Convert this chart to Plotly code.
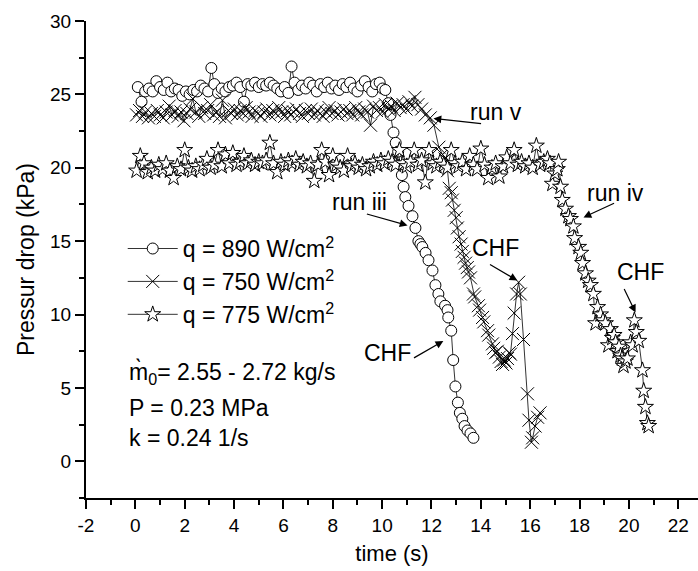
import plotly.graph_objects as go

# ---------------- data ----------------
series_names = ["q = 890 W/cm<sup>2</sup>", "q = 750 W/cm<sup>2</sup>", "q = 775 W/cm<sup>2</sup>"]
x_tick_vals = [-2, 0, 2, 4, 6, 8, 10, 12, 14, 16, 18, 20, 22]
x_tick_text = ["-2", "0", "2", "4", "6", "8", "10", "12", "14", "16", "18", "20", "22"]
y_tick_vals = [0, 5, 10, 15, 20, 25, 30]

# run iii, q = 890 W/cm2 (circles)
t_iii = [0.10, 0.25, 0.40, 0.55, 0.70, 0.85, 1.00, 1.15, 1.30, 1.45, 1.60, 1.75, 1.90, 2.05, 2.20,
         2.35, 2.50, 2.65, 2.80, 2.95, 3.08, 3.20, 3.35, 3.50, 3.65, 3.80, 3.95, 4.10, 4.25, 4.40,
         4.55, 4.70, 4.85, 5.00, 5.15, 5.30, 5.45, 5.60, 5.75, 5.90, 6.05, 6.20, 6.33, 6.45, 6.60,
         6.75, 6.90, 7.05, 7.20, 7.35, 7.50, 7.65, 7.80, 7.95, 8.10, 8.25, 8.40, 8.55, 8.70, 8.85,
         9.00, 9.15, 9.30, 9.45, 9.60, 9.75, 9.90, 10.02, 10.13, 10.25, 10.34, 10.46, 10.55, 10.65,
         10.80, 10.87, 10.94, 11.07, 11.23, 11.35, 11.47, 11.55, 11.63, 11.76, 11.88, 12.04, 12.16,
         12.28, 12.36, 12.55, 12.65, 12.68, 12.80, 12.88, 12.97, 13.07, 13.15, 13.25, 13.34, 13.46,
         13.58, 13.70]
dp_iii = [25.5, 24.5, 25.2, 25.4, 25.2, 25.9, 25.5, 25.3, 25.8, 25.2, 25.4, 25.3, 24.9, 25.2, 25.0,
          25.3, 25.2, 25.6, 25.4, 25.2, 26.8, 25.7, 25.1, 25.4, 25.2, 25.5, 25.6, 25.8, 25.5, 24.5,
          25.7, 25.6, 25.8, 25.5, 25.7, 25.6, 25.8, 25.6, 25.4, 25.2, 25.5, 25.1, 26.9, 25.8, 25.3,
          25.6, 25.4, 25.8, 25.6, 25.2, 25.7, 25.5, 25.8, 25.4, 25.6, 25.3, 25.7, 25.5, 25.8, 25.4,
          25.2, 25.6, 25.9, 25.5, 25.2, 25.7, 25.8, 25.4, 25.3, 24.4, 23.6, 22.4, 21.7, 21.1,
          19.5, 18.7, 18.0, 17.4, 16.7, 15.9, 15.0, 14.8, 14.6, 14.2, 13.7, 13.0, 12.0,
          11.4, 10.9, 10.6, 10.3, 9.8, 8.9, 6.9, 5.1, 4.0, 3.3, 2.9, 2.4, 2.1,
          1.9, 1.6]

# run v, q = 750 W/cm2 (crosses)
t_v = [0.05, 0.17, 0.29, 0.41, 0.53, 0.65, 0.77, 0.89, 1.01, 1.13, 1.25, 1.37, 1.49, 1.61, 1.73,
       1.85, 1.97, 2.09, 2.21, 2.33, 2.45, 2.57, 2.69, 2.81, 2.93, 3.05, 3.17, 3.29, 3.41, 3.53,
       3.65, 3.77, 3.89, 4.01, 4.13, 4.25, 4.37, 4.49, 4.61, 4.73, 4.85, 4.97, 5.09, 5.21, 5.33,
       5.45, 5.57, 5.69, 5.81, 5.93, 6.05, 6.17, 6.29, 6.41, 6.53, 6.65, 6.77, 6.89, 7.01, 7.13,
       7.25, 7.37, 7.49, 7.61, 7.73, 7.85, 7.97, 8.09, 8.21, 8.33, 8.45, 8.57, 8.69, 8.81, 8.93,
       9.05, 9.17, 9.29, 9.41, 9.53, 9.65, 9.77, 9.89, 10.01, 10.13, 10.25, 10.37, 10.49, 10.61,
       10.73, 10.85, 10.97, 11.09, 11.21, 11.33, 11.45, 11.60, 11.75, 11.95, 12.10, 12.30, 12.45,
       12.55, 12.65, 12.72, 12.80, 12.85, 12.92, 13.00, 13.05, 13.12, 13.20, 13.25, 13.32, 13.38,
       13.45, 13.50, 13.58, 13.70, 13.75, 13.90, 13.95, 14.07, 14.12, 14.27, 14.32, 14.47, 14.52,
       14.60, 14.67, 14.75, 14.82, 14.88, 14.95, 15.02, 15.08, 15.15, 15.20, 15.28, 15.35, 15.45,
       15.53, 15.60, 15.73, 15.89, 15.95, 16.05, 16.10, 16.20, 16.30, 16.40]
dp_v = [23.6, 23.9, 23.5, 23.8, 23.4, 23.7, 23.5, 23.9, 23.6, 23.4, 23.8, 24.2, 23.6, 23.9, 23.5,
        23.8, 23.2, 23.7, 24.0, 24.7, 23.8, 23.5, 24.1, 23.7, 23.9, 24.3, 23.6, 23.8, 23.5, 24.6,
        23.4, 23.9, 23.7, 24.0, 23.6, 23.9, 23.7, 24.1, 23.8, 23.5, 23.9, 23.7, 23.5, 23.8, 24.0,
        23.6, 23.9, 23.7, 24.1, 23.8, 23.5, 23.9, 23.6, 23.8, 24.0, 23.7, 23.5, 23.9, 23.7, 24.0,
        23.6, 23.9, 23.7, 23.5, 23.8, 24.1, 23.7, 23.9, 23.6, 23.8, 24.0, 23.7, 23.9, 23.6, 24.1,
        23.8, 23.6, 24.0, 23.8, 22.9, 24.2, 23.9, 24.1, 23.8, 24.3, 24.0, 24.2, 23.9, 24.4,
        24.1, 24.3, 24.0, 24.5, 24.2, 24.8, 24.3, 24.0, 23.6, 23.4, 22.9, 21.4, 20.9,
        20.6, 19.8, 18.6, 18.3, 17.8, 17.1, 16.6, 15.9, 15.3, 14.8, 14.3, 13.9, 13.5,
        13.2, 12.9, 12.5, 11.4, 11.2, 10.6, 10.3, 9.8, 9.5, 8.9, 8.6, 8.0, 7.7,
        7.4, 7.5, 7.1, 6.8, 6.6, 6.9, 6.7, 7.0, 7.4, 7.3, 8.7, 10.1, 11.4,
        12.2, 11.4, 8.3, 4.6, 2.8, 1.3, 1.6, 2.4, 3.0, 3.3]

# run iv, q = 775 W/cm2 (stars)
t_iv = [0.05, 0.20, 0.35, 0.50, 0.65, 0.80, 0.95, 1.10, 1.25, 1.40, 1.55, 1.70, 1.85, 2.00, 2.15,
        2.30, 2.45, 2.60, 2.75, 2.90, 3.05, 3.20, 3.35, 3.50, 3.65, 3.80, 3.95, 4.10, 4.25, 4.40,
        4.55, 4.70, 4.85, 5.00, 5.15, 5.30, 5.45, 5.60, 5.75, 5.90, 6.05, 6.20, 6.35, 6.50, 6.65,
        6.80, 6.95, 7.10, 7.25, 7.40, 7.55, 7.70, 7.85, 8.00, 8.15, 8.30, 8.45, 8.60, 8.75, 8.90,
        9.05, 9.20, 9.35, 9.50, 9.65, 9.80, 9.95, 10.10, 10.25, 10.40, 10.55, 10.70, 10.85, 11.00,
        11.15, 11.30, 11.45, 11.60, 11.75, 11.90, 12.05, 12.20, 12.35, 12.50, 12.65, 12.80, 12.95,
        13.10, 13.25, 13.40, 13.55, 13.70, 13.85, 14.00, 14.15, 14.30, 14.45, 14.60, 14.75, 14.90,
        15.05, 15.20, 15.35, 15.50, 15.65, 15.80, 15.95, 16.10, 16.25, 16.40, 16.55, 16.70, 16.80,
        16.90, 17.00, 17.10, 17.15, 17.23, 17.30, 17.43, 17.55, 17.63, 17.75, 17.80, 17.96, 18.05,
        18.12, 18.24, 18.35, 18.44, 18.56, 18.65, 18.73, 18.85, 18.95, 19.05, 19.17, 19.25, 19.33,
        19.40, 19.46, 19.54, 19.60, 19.66, 19.72, 19.78, 19.86, 19.94, 20.07, 20.15, 20.22, 20.30,
        20.40, 20.55, 20.60, 20.67, 20.75, 20.80]
dp_iv = [19.8, 20.8, 20.3, 19.7, 20.0, 19.8, 20.2, 19.9, 20.3, 19.8, 19.3, 20.1, 19.9, 21.2, 20.0,
         19.8, 20.1, 19.9, 20.2, 20.6, 20.0, 20.2, 21.2, 20.1, 20.9, 20.3, 21.0, 20.2, 20.4, 20.8,
         20.3, 20.5, 20.2, 20.4, 20.3, 20.5, 21.7, 20.3, 19.7, 20.4, 20.2, 20.5, 20.3, 20.6, 20.2,
         20.4, 20.1, 20.3, 19.1, 20.2, 21.2, 20.4, 19.5, 20.8, 20.2, 20.0, 19.8, 20.8, 20.1, 20.3,
         20.0, 20.2, 19.9, 20.1, 20.4, 20.2, 20.5, 20.3, 20.6, 20.4, 20.2, 21.2, 20.3, 20.1,
         20.4, 21.2, 20.2, 20.5, 19.0, 21.2, 20.3, 20.1, 20.4, 20.2, 20.0, 21.2, 20.3,
         20.1, 20.4, 19.9, 20.8, 20.2, 19.9, 21.3, 20.2, 19.3, 20.0, 20.3, 19.4, 20.1,
         20.7, 20.3, 21.2, 20.2, 20.4, 20.1, 20.3, 20.0, 21.5, 20.2, 20.4, 20.6, 20.3,
         18.9, 19.6, 19.9, 20.4, 18.7, 17.8, 17.2, 16.7, 16.5, 16.0, 15.2, 14.6, 14.2,
         13.5, 12.8, 12.3, 12.0, 11.4, 9.4, 10.5, 10.0, 9.6, 9.4, 7.9, 9.0, 8.4,
         8.6, 8.1, 7.5, 7.8, 7.2, 7.0, 6.5, 6.8, 7.0, 8.1, 7.9, 9.6, 8.8,
         8.2, 6.2, 4.8, 3.7, 2.6, 2.4]

FONT = "Liberation Sans, Arial, sans-serif"

fig = go.Figure()
fig.add_trace(go.Scatter(
    x=t_iii, y=dp_iii, mode="lines+markers", name=series_names[0],
    line=dict(color="black", width=0.8),
    marker=dict(symbol="circle", size=11, color="white", line=dict(color="black", width=1))))
fig.add_trace(go.Scatter(
    x=t_v, y=dp_v, mode="lines+markers", name=series_names[1],
    line=dict(color="black", width=0.8),
    marker=dict(symbol="x-thin", size=13, color="black", line=dict(color="black", width=1))))
fig.add_trace(go.Scatter(
    x=t_iv, y=dp_iv, mode="lines+markers", name=series_names[2],
    line=dict(color="black", width=0.8),
    marker=dict(symbol="star", size=12, color="white", line=dict(color="black", width=1))))

annotations = []
# text labels
for txt, x, y in [("run v", 14.63, 23.8), ("run iii", 9.08, 17.7), ("run iv", 19.46, 18.3),
                  ("CHF", 14.59, 14.5), ("CHF", 20.47, 12.9), ("CHF", 10.21, 7.35)]:
    annotations.append(dict(x=x, y=y, xref="x", yref="y", text=txt, showarrow=False,
                            font=dict(family=FONT, size=23, color="black"),
                            xanchor="center", yanchor="middle"))
# arrows (tail -> head)
for (tx, ty), (hx, hy) in [((14.07, 23.0), (12.08, 23.36)), ((9.32, 16.88), (11.03, 16.07)),
                           ((19.46, 17.63), (18.16, 16.62)), ((14.31, 13.47), (15.48, 12.32)),
                           ((19.78, 11.84), (20.27, 10.14)), ((11.23, 6.99), (12.48, 8.2))]:
    annotations.append(dict(x=hx, y=hy, ax=tx, ay=ty, xref="x", yref="y", axref="x", ayref="y",
                            text="", showarrow=True, arrowhead=2, arrowsize=1.3, arrowwidth=1.2,
                            arrowcolor="black", standoff=0, startstandoff=0))
# condition texts
for txt, y in [("m\u0300<sub>0</sub>= 2.55 - 2.72 kg/s", 6.05),
               ("P = 0.23 MPa", 3.6), ("k = 0.24 1/s", 1.6)]:
    annotations.append(dict(x=-0.35, y=y, xref="x", yref="y", text=txt, showarrow=False,
                            font=dict(family=FONT, size=23, color="black"),
                            xanchor="left", yanchor="middle"))

fig.update_layout(
    width=698, height=571,
    margin=dict(l=86, r=0, t=21, b=73),
    paper_bgcolor="white", plot_bgcolor="white",
    font=dict(family=FONT, color="black"),
    showlegend=True,
    legend=dict(x=0.06, y=0.568, xanchor="left", yanchor="top", bgcolor="rgba(0,0,0,0)",
                font=dict(family=FONT, size=23, color="black"), itemwidth=50,
                tracegroupgap=0),
    annotations=annotations,
    xaxis=dict(range=[-2, 22.8], tickvals=x_tick_vals, ticktext=x_tick_text, ticks="outside",
               ticklen=9, tickwidth=1.5,
               tickcolor="black", showline=True, linewidth=2, linecolor="black",
               showgrid=False, zeroline=False,
               tickfont=dict(family=FONT, size=19, color="black"),
               minor=dict(dtick=1, tick0=-1, ticks="outside", ticklen=5, tickwidth=1.5,
                          tickcolor="black", showgrid=False),
               title=dict(text="time (s)", font=dict(family=FONT, size=22, color="black"),
                          standoff=11)),
    yaxis=dict(range=[-2.5, 30], tickvals=y_tick_vals, ticks="outside", ticklen=9, tickwidth=1.5,
               tickcolor="black", showline=True, linewidth=2, linecolor="black",
               showgrid=False, zeroline=False,
               tickfont=dict(family=FONT, size=19, color="black"),
               minor=dict(dtick=2.5, tick0=0, ticks="outside", ticklen=5, tickwidth=1.5,
                          tickcolor="black", showgrid=False),
               title=dict(text="Pressur drop (kPa)", font=dict(family=FONT, size=23, color="black"),
                          standoff=9)),
)

fig.write_html("out.html")
